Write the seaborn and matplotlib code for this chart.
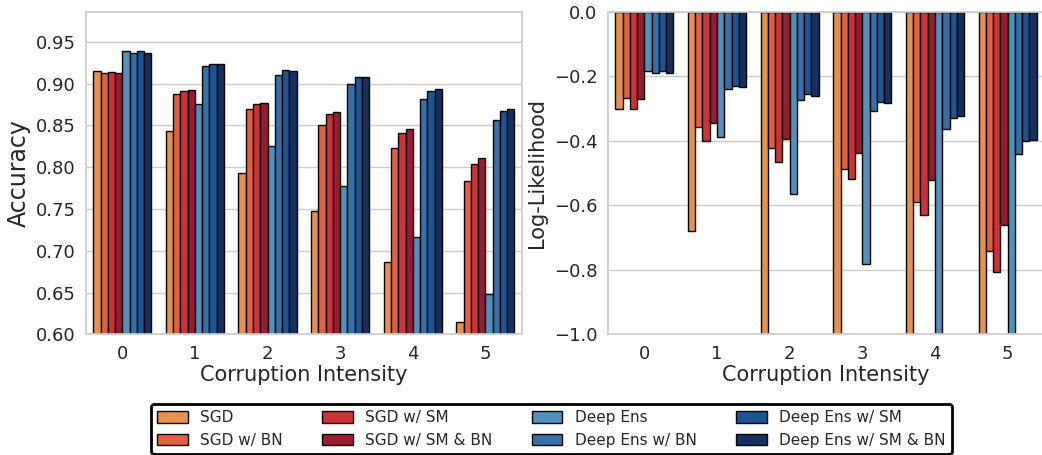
import pandas as pd
import numpy as np
import matplotlib
matplotlib.use("Agg")
import matplotlib.pyplot as plt
import seaborn as sns
from matplotlib.patches import Patch

# --- data ---
intensities = ["0", "1", "2", "3", "4", "5"]
methods = ["SGD", "SGD w/ BN", "SGD w/ SM", "SGD w/ SM & BN",
           "Deep Ens", "Deep Ens w/ BN", "Deep Ens w/ SM", "Deep Ens w/ SM & BN"]
colors = ["#E8914F", "#E2603F", "#CE3236", "#9C1A31",
          "#5290BE", "#3571A8", "#1D5593", "#15305F"]

acc_sgd = [0.915, 0.843, 0.793, 0.747, 0.687, 0.615]
acc_sgd_bn = [0.913, 0.887, 0.869, 0.851, 0.823, 0.784]
acc_sgd_sm = [0.914, 0.891, 0.875, 0.863, 0.841, 0.804]
acc_sgd_sm_bn = [0.913, 0.892, 0.877, 0.866, 0.846, 0.811]
acc_de = [0.939, 0.875, 0.825, 0.778, 0.717, 0.648]
acc_de_bn = [0.937, 0.921, 0.910, 0.900, 0.881, 0.856]
acc_de_sm = [0.939, 0.924, 0.916, 0.908, 0.891, 0.867]
acc_de_sm_bn = [0.936, 0.924, 0.915, 0.908, 0.893, 0.870]

ll_sgd = [-0.302, -0.680, -1.30, -1.50, -1.80, -2.10]
ll_sgd_bn = [-0.269, -0.358, -0.422, -0.487, -0.591, -0.742]
ll_sgd_sm = [-0.303, -0.401, -0.465, -0.520, -0.631, -0.807]
ll_sgd_sm_bn = [-0.271, -0.344, -0.396, -0.437, -0.523, -0.662]
ll_de = [-0.184, -0.388, -0.566, -0.783, -1.10, -1.30]
ll_de_bn = [-0.191, -0.241, -0.275, -0.308, -0.364, -0.440]
ll_de_sm = [-0.183, -0.229, -0.256, -0.279, -0.328, -0.402]
ll_de_sm_bn = [-0.191, -0.233, -0.260, -0.282, -0.324, -0.397]

acc_series = [acc_sgd, acc_sgd_bn, acc_sgd_sm, acc_sgd_sm_bn,
              acc_de, acc_de_bn, acc_de_sm, acc_de_sm_bn]
ll_series = [ll_sgd, ll_sgd_bn, ll_sgd_sm, ll_sgd_sm_bn,
             ll_de, ll_de_bn, ll_de_sm, ll_de_sm_bn]

rows = []
for m, a, l in zip(methods, acc_series, ll_series):
    for i, av, lv in zip(intensities, a, l):
        rows.append({"intensity": i, "method": m, "acc": av, "ll": lv})
df = pd.DataFrame(rows)

sns.set_theme(style="whitegrid")
plt.rcParams["font.family"] = ["DejaVu Sans"]

fig = plt.figure(figsize=(10.42, 4.55), dpi=100)
ax1 = fig.add_axes([86 / 1042, 120.7 / 455, 435.7 / 1042, 322.6 / 455])
ax2 = fig.add_axes([608 / 1042, 120.7 / 455, 436 / 1042, 322.6 / 455])

for ax, col in [(ax1, "acc"), (ax2, "ll")]:
    sns.barplot(data=df, x="intensity", y=col, hue="method", hue_order=methods,
                order=intensities, palette=colors, edgecolor="black",
                linewidth=1.0, saturation=1, legend=False, ax=ax)
    ax.set_xlim(-0.5, 5.5)
    ax.tick_params(axis="both", labelsize=13, pad=1.5)
    ax.set_xlabel("Corruption Intensity", fontsize=15, labelpad=2)

ax1.set_ylim(0.6, 0.986)
ax1.set_yticks(np.arange(0.60, 0.951, 0.05))
ax1.set_ylabel("Accuracy", fontsize=17, labelpad=3.5)

ax2.set_ylim(-1.0, 0.0)
ax2.set_yticks([-1.0, -0.8, -0.6, -0.4, -0.2, 0.0])
ax2.set_ylabel("Log-Likelihood", fontsize=15, labelpad=5)

handles = [Patch(facecolor=c, edgecolor="black", linewidth=1.0) for c in colors]
leg = fig.legend(handles, methods, loc="upper center", ncol=4,
                 bbox_to_anchor=(0.529, 1 - 404 / 455), borderaxespad=0,
                 fontsize=11, frameon=True, fancybox=True, edgecolor="black",
                 handlelength=2.0, handleheight=0.8, handletextpad=0.8,
                 columnspacing=2.6, borderpad=0.4, labelspacing=0.5)
leg.get_frame().set_linewidth(2.0)
leg.get_frame().set_alpha(1)

fig.savefig("out.png", dpi=100)
